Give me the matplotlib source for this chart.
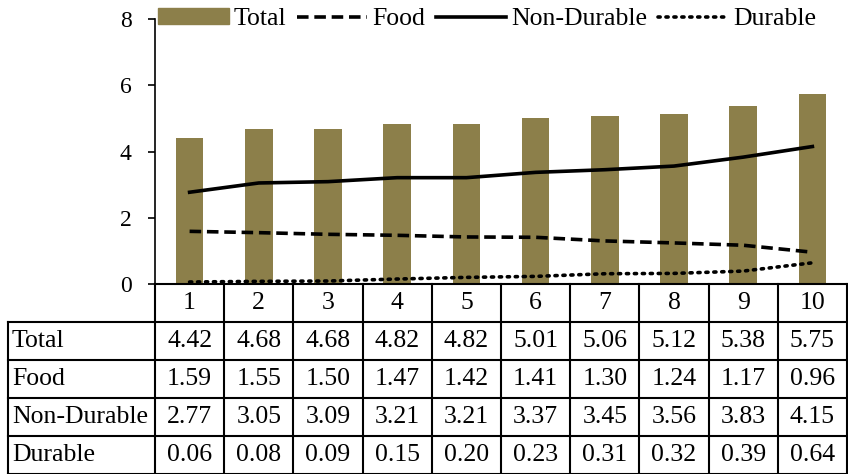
import matplotlib
matplotlib.use("Agg")
import matplotlib.pyplot as plt
from matplotlib.patches import Patch
from matplotlib.lines import Line2D

# data
categories = ["1", "2", "3", "4", "5", "6", "7", "8", "9", "10"]
total = [4.42, 4.68, 4.68, 4.82, 4.82, 5.01, 5.06, 5.12, 5.38, 5.75]
food = [1.59, 1.55, 1.50, 1.47, 1.42, 1.41, 1.30, 1.24, 1.17, 0.96]
non_durable = [2.77, 3.05, 3.09, 3.21, 3.21, 3.37, 3.45, 3.56, 3.83, 4.15]
durable = [0.06, 0.08, 0.09, 0.15, 0.20, 0.23, 0.31, 0.32, 0.39, 0.64]
row_names = ["Total", "Food", "Non-Durable", "Durable"]

plt.rcParams['font.family'] = ['Liberation Serif', 'DejaVu Serif']

W, H = 848, 474
fig = plt.figure(figsize=(W / 100, H / 100), dpi=100)

# plot area in pixels
left, right, top, bottom = 155, 847, 19, 284
ax = fig.add_axes([left / W, 1 - bottom / H, (right - left) / W, (bottom - top) / H])

x = list(range(len(categories)))
bar_color = "#8C7F4A"
ax.bar(x, total, width=0.4, color=bar_color, zorder=2)
ax.plot(x, food, color="black", lw=2.6, ls=(0, (3.2, 1.6)), zorder=3)
ax.plot(x, non_durable, color="black", lw=2.6, zorder=3)
ax.plot(x, durable, color="black", lw=2.6, ls=(0, (0.6, 1.6)), dash_capstyle="round", zorder=3)

ax.set_xlim(-0.5, len(categories) - 0.5)
ax.set_ylim(0, 8)
ax.set_yticks([0, 2, 4, 6, 8])
ax.tick_params(axis="y", labelsize=17, length=5, width=1.2, direction="out", pad=12)
ax.set_xticks([])
for s in ["top", "right"]:
    ax.spines[s].set_visible(False)
ax.spines["left"].set_linewidth(1.2)
ax.spines["bottom"].set_linewidth(1.5)

# legend
handles = [Patch(color=bar_color),
           Line2D([], [], color="black", lw=2.6, ls=(0, (3.2, 1.6))),
           Line2D([], [], color="black", lw=2.6),
           Line2D([], [], color="black", lw=2.6, ls=(0, (0.6, 1.6)), dash_capstyle="round")]
leg = fig.legend(handles, ["Total", "Food", "Non-Durable", "Durable"], ncol=4,
                 loc="center left", bbox_to_anchor=(158 / W, 1 - 19 / H),
                 frameon=False, fontsize=18.5, handlelength=2.75, handleheight=0.55,
                 handletextpad=0.2, columnspacing=0.4, borderaxespad=0, borderpad=0)

# data table below the axes (drawn in pixel coords converted to figure fraction)
def fx(px):
    return px / W

def fy(py):
    return 1 - py / H

col_w = (right - left) / len(categories)
row_h = 38
lab_left = 8
lw = 1.5
fs = 18.5
values = [total, food, non_durable, durable]

# header row with category numbers
for i, c in enumerate(categories):
    fig.text(fx(left + (i + 0.5) * col_w), fy(bottom + row_h / 2), c,
             ha="center", va="center", fontsize=fs)
for i in range(len(categories) + 1):
    xp = left + i * col_w
    fig.add_artist(Line2D([fx(xp), fx(xp)], [fy(bottom), fy(bottom + row_h * 5)],
                          color="black", lw=lw))

# horizontal lines
for r in range(1, 6):
    yp = bottom + r * row_h
    fig.add_artist(Line2D([fx(lab_left), fx(right)], [fy(yp), fy(yp)], color="black", lw=lw))
fig.add_artist(Line2D([fx(lab_left), fx(lab_left)], [fy(bottom + row_h), fy(bottom + row_h * 5)],
                      color="black", lw=lw))

for r, (name, vals) in enumerate(zip(row_names, values)):
    yc = bottom + (r + 1.5) * row_h
    fig.text(fx(lab_left + 4), fy(yc), name, ha="left", va="center", fontsize=fs)
    for i, v in enumerate(vals):
        fig.text(fx(left + (i + 0.5) * col_w), fy(yc), f"{v:.2f}",
                 ha="center", va="center", fontsize=fs)

fig.savefig("out.png", dpi=100)
